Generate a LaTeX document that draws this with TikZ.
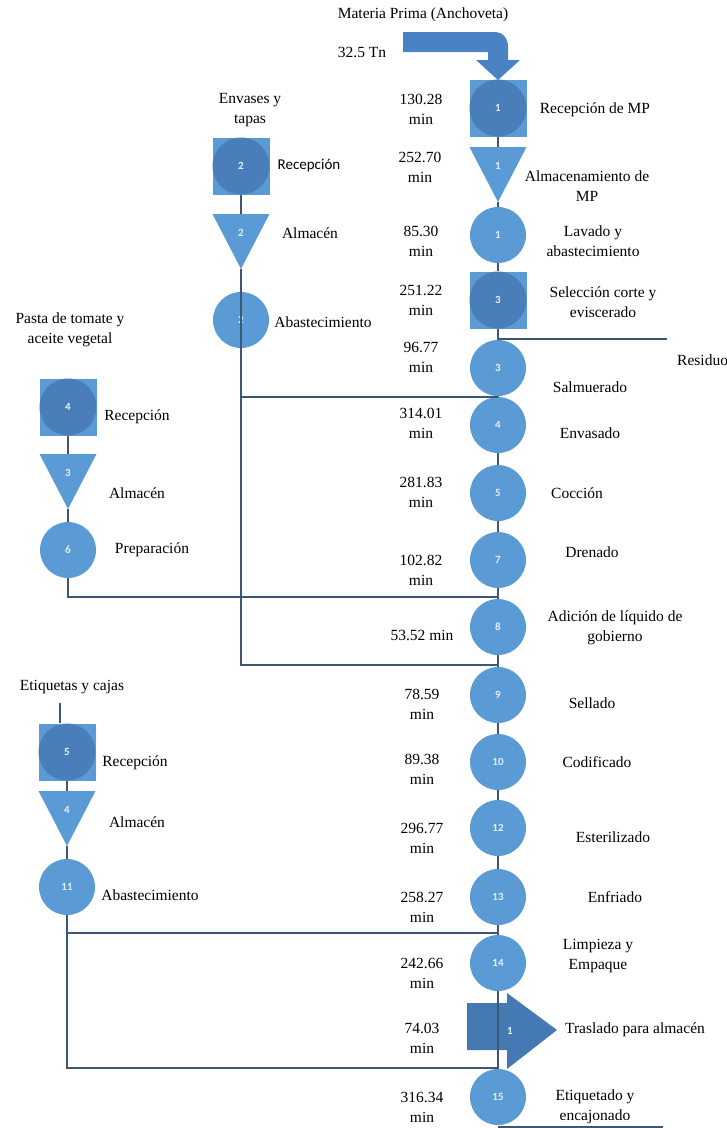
\documentclass[tikz,border=0pt]{standalone}
\usepackage{fontspec}
\setmainfont{Liberation Serif}
\newfontfamily\calfont{Carlito}
\usepackage{xcolor}
\usetikzlibrary{positioning}
\definecolor{opblue}{HTML}{5B9BD5}
\definecolor{recdark}{HTML}{4A7EBB}
\definecolor{linegray}{HTML}{3E5873}
\definecolor{arrowblue}{HTML}{4A83C4}
\definecolor{numwhite}{HTML}{E4EEF8}

\begin{document}
\begin{tikzpicture}[
    x=1pt, y=-1pt,
    txt/.style={font=\fontsize{15.5}{20}\selectfont, align=center, inner sep=0pt},
    sanstxt/.style={font=\calfont\fontsize{15}{18}\selectfont, inner sep=0pt},
    num/.style={font=\calfont\bfseries\fontsize{11}{13}\selectfont, text=numwhite},
    opcirc/.style={circle, fill=opblue, minimum size=56pt, inner sep=0pt, num},
    recbox/.style={rectangle, fill=opblue, minimum size=57pt, inner sep=0pt, num,
        path picture={\fill[recdark] (path picture bounding box.center) circle (28.5pt);}},
    storetri/.style={rectangle, minimum width=57pt, minimum height=55pt, inner sep=0pt, num, text depth=18pt,
        path picture={\fill[opblue] (path picture bounding box.north west) -- (path picture bounding box.north east) -- (path picture bounding box.south) -- cycle;}},
    link/.style={draw=linegray, line width=1.1pt}
]
    \useasboundingbox (0,0) rectangle (727,1128);

    \node[txt] (mprima) at (423,15) {Materia Prima (Anchoveta)};
    \node[txt] (tn) at (362,52) {32.5 Tn};
    \fill[arrowblue] (403,32) -- (494,32) .. controls (503,32) and (508,38) .. (508,47) -- (508,60) -- (520,60)
        -- (498,80) -- (476,60) -- (488,60) -- (488,52) -- (403,52) -- cycle;

    \node[recbox] (recmp) at (498,108) {1};
    \node[storetri] (almmp) at (498,174.5) {1};
    \node[opcirc] (lavado) at (498,235) {1};
    \node[recbox] (selec) at (498,300) {3};
    \node[opcirc] (salmu) at (498,368) {3};
    \node[opcirc] (envas) at (498,425) {4};
    \node[opcirc] (cocci) at (498,493) {5};
    \node[opcirc] (drena) at (498,560) {7};
    \node[opcirc] (adici) at (498,627) {8};
    \node[opcirc] (sella) at (498,695) {9};
    \node[opcirc] (codif) at (498,762) {10};
    \node[opcirc] (ester) at (498,828) {12};
    \node[opcirc] (enfri) at (498,897) {13};
    \node[opcirc] (limpi) at (498,963) {14};
    \fill[arrowblue!92!black] (467,1003) -- (507,1003) -- (507,993) -- (557,1030) -- (507,1069) -- (507,1050) -- (467,1050) -- cycle;
    \node[num] (trasl) at (510,1031) {1};
    \node[opcirc] (etiqu) at (498,1097) {15};

    \node[txt] (t01) at (421,109) {130.28\\min};
    \node[txt] (t02) at (420,167) {252.70\\min};
    \node[txt] (t03) at (421,241) {85.30\\min};
    \node[txt] (t04) at (421,300) {251.22\\min};
    \node[txt] (t05) at (421,357) {96.77\\min};
    \node[txt] (t06) at (421,423) {314.01\\min};
    \node[txt] (t07) at (421,492) {281.83\\min};
    \node[txt] (t08) at (421,570) {102.82\\min};
    \node[txt] (t09) at (422,635) {53.52 min};
    \node[txt] (t10) at (422,704) {78.59\\min};
    \node[txt] (t11) at (422,769) {89.38\\min};
    \node[txt] (t12) at (422,838) {296.77\\min};
    \node[txt] (t13) at (422,907) {258.27\\min};
    \node[txt] (t14) at (422,973) {242.66\\min};
    \node[txt] (t15) at (422,1038) {74.03\\min};
    \node[txt] (t16) at (422,1107) {316.34\\min};

    \node[txt] (lrecmp) at (595,110) {Recepción de MP};
    \node[txt] (lalmmp) at (587,186) {Almacenamiento de\\MP};
    \node[txt] (llav) at (593,241) {Lavado y\\abastecimiento};
    \node[txt] (lsel) at (603,302) {Selección corte y\\eviscerado};
    \node[txt, anchor=west] (lres) at (677,360) {Residuo};
    \node[txt] (lsal) at (590,387) {Salmuerado};
    \node[txt] (lenv) at (590,433) {Envasado};
    \node[txt] (lcoc) at (577,493) {Cocción};
    \node[txt] (ldre) at (592,552) {Drenado};
    \node[txt] (ladi) at (615,628) {Adición de líquido de\\gobierno};
    \node[txt] (lsel2) at (592,703) {Sellado};
    \node[txt] (lcod) at (597,762) {Codificado};
    \node[txt] (lest) at (613,837) {Esterilizado};
    \node[txt] (lenf) at (615,897) {Enfriado};
    \node[txt] (llim) at (598,956) {Limpieza y\\Empaque};
    \node[txt] (ltra) at (635,1030) {Traslado para almacén};
    \node[txt] (leti) at (595,1107) {Etiquetado y\\encajonado};

    \node[txt] (envtap) at (250,110) {Envases y\\tapas};
    \node[recbox] (recenv) at (241,166) {2};
    \node[storetri] (almenv) at (241,241.5) {2};
    \node[opcirc] (abaenv) at (241,320) {2};
    \node[sanstxt] (lrecenv) at (309,166) {Recepción};
    \node[txt] (lalmenv) at (310,233) {Almacén};
    \node[txt] (labaenv) at (323,322) {Abastecimiento};

    \node[txt] (pasta) at (70,330) {Pasta de tomate y\\aceite vegetal};
    \node[recbox] (recpas) at (68,407) {4};
    \node[storetri] (almpas) at (68,481.5) {3};
    \node[opcirc] (prepas) at (68,550) {6};
    \node[txt] (lrecpas) at (137,417) {Recepción};
    \node[txt] (lalmpas) at (137,493) {Almacén};
    \node[txt] (lprepas) at (152,550) {Preparación};

    \node[txt] (etcaj) at (72,687) {Etiquetas y cajas};
    \node[recbox] (receti) at (67,752) {5};
    \node[storetri] (almeti) at (67,818.5) {4};
    \node[opcirc] (abaeti) at (67,887) {11};
    \node[txt] (lreceti) at (135,763) {Recepción};
    \node[txt] (lalmeti) at (137,822) {Almacén};
    \node[txt] (labaeti) at (150,895) {Abastecimiento};

    \coordinate (res) at (667,339);
    \coordinate (j1a) at (241,397);
    \coordinate (j1b) at (241,665);
    \coordinate (j2) at (68,597);
    \coordinate (j3a) at (67,933);
    \coordinate (j3b) at (67,1068);
    \coordinate (fin) at (663,1127);

    \draw[link] (recmp) -- (almmp);
    \draw[link] (almmp) -- (lavado);
    \draw[link] (lavado) -- (selec);
    \draw[link] (selec) -- (salmu);
    \draw[link] (salmu) -- (envas);
    \draw[link] (envas) -- (cocci);
    \draw[link] (cocci) -- (drena);
    \draw[link] (drena) -- (adici);
    \draw[link] (adici) -- (sella);
    \draw[link] (sella) -- (codif);
    \draw[link] (codif) -- (ester);
    \draw[link] (ester) -- (enfri);
    \draw[link] (enfri) -- (limpi);
    \draw[link] (limpi) -- (etiqu);
    \draw[link] (res -| selec) -- (res);
    \draw[link] (fin -| etiqu) -- (fin);

    \draw[link] (recenv) -- (almenv);
    \draw[link] (almenv) -- (j1b) -- (j1b -| adici);
    \draw[link] (j1a) -- (j1a -| salmu);

    \draw[link] (recpas) -- (almpas);
    \draw[link] (almpas) -- (prepas);
    \draw[link] (prepas) -- (j2) -- (j2 -| drena);

    \draw[link] ([xshift=-7pt]receti.north) -- ++(0,-20);
    \draw[link] (receti) -- (almeti);
    \draw[link] (almeti) -- (abaeti);
    \draw[link] (abaeti) -- (j3b) -- (j3b -| etiqu);
    \draw[link] (j3a) -- (j3a -| limpi);
\end{tikzpicture}
\end{document}
